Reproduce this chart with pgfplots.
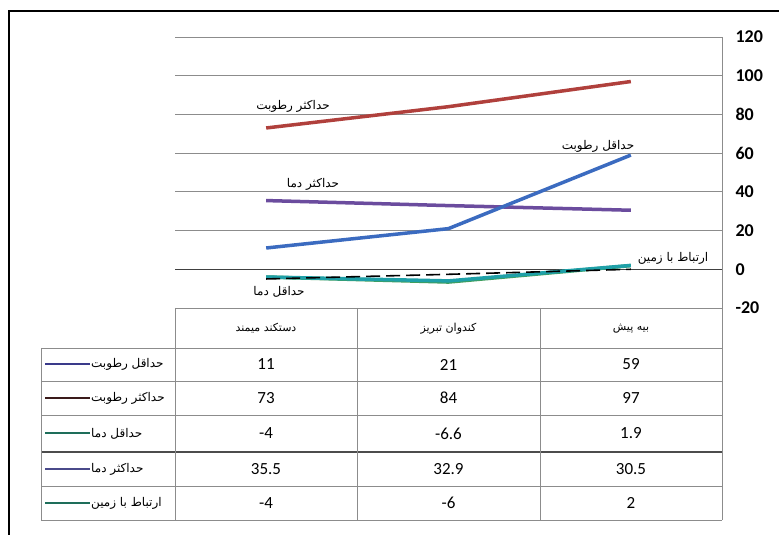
\documentclass[border=0pt]{standalone}
\usepackage{pgfplots}
\pgfplotsset{compat=1.18}
\usepackage{fontspec}
\setmainfont{Carlito}
\newfontfamily\fa[Script=Arabic]{DejaVu Sans}
\TeXXeTstate=1
\newcommand{\fat}[1]{{\fa\beginR #1\endR}}
\definecolor{cred}{HTML}{B0403C}
\definecolor{cblue}{HTML}{3B6BC0}
\definecolor{cpurple}{HTML}{6B4C9E}
\definecolor{cteal}{HTML}{1FA0A8}
\definecolor{cgreen}{HTML}{3E9E5E}
\definecolor{gridc}{HTML}{8C8C8C}
\definecolor{lnavy}{HTML}{3A3A8A}
\definecolor{lbrown}{HTML}{3A1A1A}
\definecolor{lgreen}{HTML}{1E6E5A}
\definecolor{lpurp}{HTML}{4A4A8A}
\begin{document}
\begin{tikzpicture}[x=1pt,y=1pt]
\useasboundingbox (0,0) rectangle (779,535);
\fill[white] (0,0) rectangle (779,535);
\draw[line width=2pt] (9,-20) -- (9,524) -- (800,524);
\begin{axis}[
  at={(175pt,227pt)}, anchor=south west, scale only axis,
  width=547pt, height=271pt,
  xmin=0, xmax=3, ymin=-20, ymax=120,
  ytick={-20,0,20,40,60,80,100,120},
  xtick=\empty,
  axis x line=none, axis y line*=right,
  y axis line style={gridc, line width=0.8pt},
  major tick length=0pt,
  ymajorgrids, grid style={gridc, line width=0.8pt},
  yticklabel style={font=\bfseries\fontsize{18}{18}\selectfont, anchor=west, xshift=10pt},
  /pgf/number format/assume math mode=true,
  clip=false,
]
\draw[black!75, line width=1.3pt] (axis cs:0,0) -- (axis cs:3,0);
\addplot[cred, line width=3.5pt] coordinates {(0.5,73) (1.5,84) (2.5,97)};
\addplot[cpurple, line width=3.5pt] coordinates {(0.5,35.5) (1.5,32.9) (2.5,30.5)};
\addplot[cblue, line width=3.5pt] coordinates {(0.5,11) (1.5,21) (2.5,59)};
\addplot[cgreen, line width=3.5pt] coordinates {(0.5,-4) (1.5,-6.6) (2.5,1.9)};
\addplot[cteal, line width=3.5pt] coordinates {(0.5,-4) (1.5,-6) (2.5,2)};
\addplot[black, line width=1.6pt, dash pattern=on 14pt off 6pt] coordinates {(0.5,-5) (1.5,-2.6) (2.5,0)};
\end{axis}
% chart labels
\begin{scope}[every node/.style={inner sep=0pt, font=\fontsize{12}{12}\selectfont}]
\node at (293,429) {\fat{حداکثر رطوبت}};
\node at (598,389) {\fat{حداقل رطوبت}};
\node at (313,351) {\fat{حداکثر دما}};
\node at (673,277) {\fat{ارتباط با زمین}};
\node at (279,243) {\fat{حداقل دما}};
\end{scope}
% data table
\begin{scope}[gridc, line width=0.9pt]
\draw (175,227) -- (722,227);
\draw (41,187) -- (722,187);
\draw (41,154) -- (722,154);
\draw (41,120) -- (722,120);
\draw[black!70, line width=1.3pt] (41,83) -- (722,83);
\draw (41,49) -- (722,49);
\draw (41,15) -- (722,15);
\draw (41,187) -- (41,15);
\draw (175,227) -- (175,15);
\draw (357,227) -- (357,15);
\draw (540,227) -- (540,15);
\draw (722,227) -- (722,15);
\end{scope}
\begin{scope}[every node/.style={inner sep=0pt, font=\fontsize{11}{11}\selectfont}]
\node at (266,206.5) {\fat{دستکند میمند}};
\node at (448.5,206.5) {\fat{کندوان تبریز}};
\node at (631,206.5) {\fat{بیه پیش}};
\end{scope}
\begin{scope}[every node/.style={inner sep=0pt, font=\fontsize{12}{12}\selectfont}]
\node[anchor=west] at (91,170.5) {\fat{حداقل رطوبت}};
\node[anchor=west] at (91,137) {\fat{حداکثر رطوبت}};
\node[anchor=west] at (91,101.5) {\fat{حداقل دما}};
\node[anchor=west] at (91,66) {\fat{حداکثر دما}};
\node[anchor=west] at (91,32) {\fat{ارتباط با زمین}};
\end{scope}
\draw[lnavy, line width=2pt] (45,170.5) -- (90,170.5);
\draw[lbrown, line width=2pt] (45,137) -- (90,137);
\draw[lgreen, line width=2pt] (45,101.5) -- (90,101.5);
\draw[lpurp, line width=2pt] (45,66) -- (90,66);
\draw[lgreen, line width=2pt] (45,32) -- (90,32);
\begin{scope}[every node/.style={inner sep=0pt, font=\fontsize{17}{17}\selectfont}]
\node at (266,170.5) {11};
\node at (448.5,170.5) {21};
\node at (631,170.5) {59};
\node at (266,137) {73};
\node at (448.5,137) {84};
\node at (631,137) {97};
\node at (266,101.5) {-4};
\node at (448.5,101.5) {-6.6};
\node at (631,101.5) {1.9};
\node at (266,66) {35.5};
\node at (448.5,66) {32.9};
\node at (631,66) {30.5};
\node at (266,32) {-4};
\node at (448.5,32) {-6};
\node at (631,32) {2};
\end{scope}
\end{tikzpicture}
\end{document}
